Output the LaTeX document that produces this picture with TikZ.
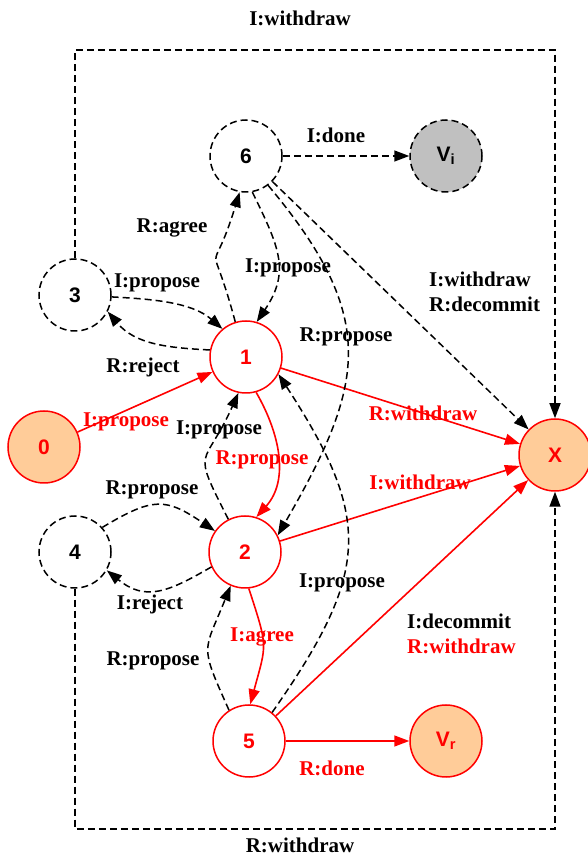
\documentclass[tikz,border=0pt]{standalone}
\usepackage{fontspec}
\setmainfont{Liberation Serif}
\newfontfamily\arialfont{Liberation Sans}
\usetikzlibrary{arrows.meta}
\definecolor{peach}{RGB}{255,204,153}
\definecolor{vgray}{RGB}{192,192,192}

\begin{document}
\begin{tikzpicture}[x=1pt, y=1pt,
  dline/.style={dash pattern=on 7pt off 4pt, line width=1.5pt},
  rline/.style={red, line width=1.6pt},
  state/.style={circle, draw=red, line width=1.5pt, minimum size=72pt, inner sep=0pt, text=red, font=\arialfont\bfseries\fontsize{21}{24}\selectfont},
  ghost/.style={state, draw=black, text=black, dline},
  lab/.style={font=\bfseries\fontsize{21}{25}\selectfont, inner sep=1pt},
  >={Triangle[length=15pt,width=11pt]}]

\useasboundingbox (0,0) rectangle (588,857);

\node[state, fill=peach] (n0) at (44,410) {0};
\node[state] (n1) at (246,500) {1};
\node[state] (n2) at (245,305) {2};
\node[ghost] (n3) at (75,562) {3};
\node[ghost] (n4) at (75,305) {4};
\node[state] (n5) at (249,116) {5};
\node[ghost] (n6) at (246,701) {6};
\node[ghost, fill=vgray] (vi) at (446,701) {V\textsubscript{i}};
\node[state, fill=peach] (vr) at (446,116) {V\textsubscript{r}};
\node[state, fill=peach] (x) at (555,402) {X};
\coordinate (ctop) at (300,807);
\coordinate (cbot) at (300,28);

\draw[->, rline] (n0) -- (n1);
\draw[->, rline] (n1) -- (x);
\draw[->, rline] (n2) -- (x);
\draw[->, rline] (n5) -- (x);
\draw[->, rline] (n5) -- (vr);
\draw[->, rline] (n1.286) to[out=-60, in=48] (n2.72);
\draw[->, rline] (n2.276) to[out=-72, in=75, looseness=1.4] (n5.88);

\draw[->, dline] (n3) |- (ctop) -| (x);
\draw[->, dline] (n4) |- (cbot) -| (x);
\draw[->, dline] (n3.357) to[out=-3, in=139, looseness=0.9] (n1.130);
\draw[->, dline] (n1.169) to[out=177, in=-50] (n3.333);
\draw[->, dline] (n1.107) to[out=105, in=-107, looseness=2] (n6.260);
\draw[->, dline] (n6.280) to[out=-64, in=56, looseness=1.2] (n1.73);
\draw[->, dline] (n6) -- (vi);
\draw[->, dline] (n6) -- (x);
\draw[->, dline] (n6.307) to[out=-50, in=60, looseness=1.27] (n2.27);
\draw[->, dline] (n2.117) to[out=117, in=-114, looseness=1.7] (n1.258);
\draw[->, dline] (n4.42) to[out=31, in=146, looseness=1.35] (n2.145);
\draw[->, dline] (n2.204) to[out=210, in=-39, looseness=1.22] (n4.330);
\draw[->, dline] (n5.123) to[out=114, in=-112, looseness=1.5] (n2.247);
\draw[->, dline] (n5.51) to[out=55, in=-57, looseness=1.3] (n1.332);

\node[lab] (lwtop) at (300,839) {I:withdraw};
\node[lab] (lwbot) at (300,12) {R:withdraw};
\node[lab] (ldone6) at (336,722) {I:done};
\node[lab] (lagree1) at (172,629) {R:agree};
\node[lab] (lprop61) at (288,589) {I:propose};
\node[lab] (lprop31) at (157,574) {I:propose};
\node[lab] (lreject1) at (143,490) {R:reject};
\node[lab] (lprop62) at (346,520) {R:propose};
\node[lab, anchor=west, align=left] (lx6) at (428,565) {I:withdraw\\R:decommit};
\node[lab, red] (lprop01) at (126,435) {I:propose};
\node[lab, red] (lx1) at (423,444) {R:withdraw};
\node[lab] (lprop21) at (219,427) {I:propose};
\node[lab, red] (lprop12) at (262,397) {R:propose};
\node[lab, red] (lx2) at (420,375) {I:withdraw};
\node[lab] (lprop42) at (152,367) {R:propose};
\node[lab] (lreject2) at (150,253) {I:reject};
\node[lab, red] (lagree2) at (262,220) {I:agree};
\node[lab] (lprop52) at (153,196) {R:propose};
\node[lab] (lprop51) at (342,274) {I:propose};
\node[lab, anchor=west, align=left] (lx5) at (406,223) {I:decommit\\\textcolor{red}{R:withdraw}};
\node[lab, red] (ldone5) at (332,89) {R:done};
\end{tikzpicture}
\end{document}
